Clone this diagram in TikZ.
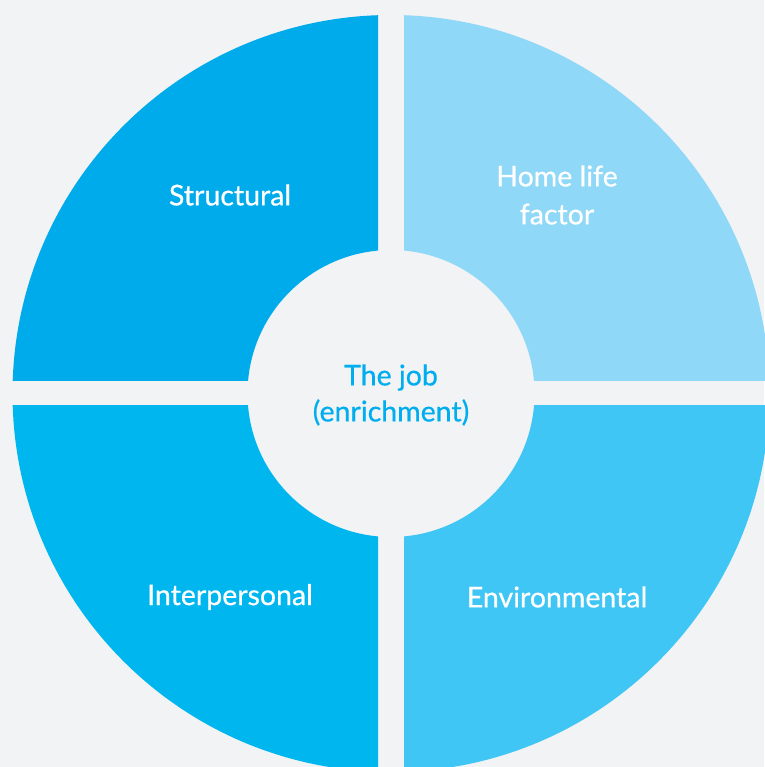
\documentclass[tikz,border=0pt]{standalone}
\usepackage{fontspec}
\setmainfont{Lato}
\newfontfamily\ringfont{Lato}[FakeBold=0.6]
\usepackage{tikz}

\definecolor{bgGrey}{RGB}{242,243,245}
\definecolor{segStruct}{RGB}{0,171,236}
\definecolor{segHome}{RGB}{143,216,247}
\definecolor{segInter}{RGB}{0,182,239}
\definecolor{segEnv}{RGB}{64,198,244}
\definecolor{jobText}{RGB}{0,174,239}

\tikzset{
  seglabel/.style={text=white, align=center, font=\ringfont\fontsize{28.5}{38}\selectfont},
  joblabel/.style={text=jobText, align=center, font=\ringfont\fontsize{28.5}{36}\selectfont}
}

\begin{document}
\begin{tikzpicture}[x=1pt, y=1pt]

      \fill[bgGrey] (0,0) rectangle (764,767);
      \useasboundingbox (0,0) rectangle (764,767);

      % the four quarters of the ring, gaps kept straight
      \begin{scope}[shift={(391,373.5)}]
        \foreach \sx/\sy/\col in {-1/1/segStruct, 1/1/segHome, -1/-1/segInter, 1/-1/segEnv}
        {
          \begin{scope}
            \clip ({\sx*13},{\sy*12.5}) rectangle ({\sx*400},{\sy*400});
            \fill[\col, even odd rule] (0,0) circle (378.5) (0,0) circle (143.5);
          \end{scope}
        }

        \node[seglabel] (structural) at (-161,198.5) {Structural};
        \node[seglabel] (homelife) at (166,198.5) {Home life\\factor};
        \node[seglabel] (interpersonal) at (-161,-203.5) {Interpersonal};
        \node[seglabel] (environmental) at (166,-203.5) {Environmental};
        \node[joblabel] (job) at (0,-1.5) {The job\\(enrichment)};
      \end{scope}

\end{tikzpicture}
\end{document}
